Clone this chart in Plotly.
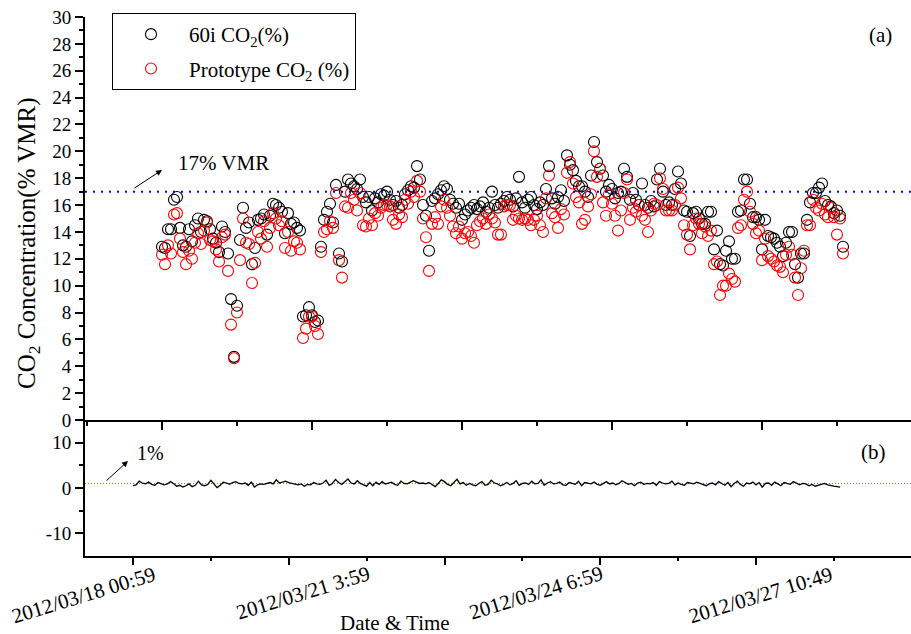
import plotly.graph_objects as go

# 60i analyser CO2 (% VMR), one value per sample
co2_60i = [
    12.9, 12.8, 14.2, 14.2, 16.4, 16.6, 14.3, 13.0, 12.9, 14.2,
    13.3, 14.5, 15.0, 14.0, 14.9, 14.8, 14.2, 13.5, 13.2, 12.5,
    14.4, 14.0, 12.4, 9.0, 4.7, 8.5, 13.4, 15.8, 14.3, 14.7,
    11.6, 12.8, 14.9, 15.0, 15.3, 13.8, 15.2, 16.1, 16.0, 15.8,
    15.5, 13.9, 15.4, 14.6, 14.7, 14.3, 14.1, 7.7, 7.8, 8.4,
    7.8, 7.3, 7.4, 12.9, 14.9, 15.5, 16.1, 14.7, 17.5, 12.4,
    11.8, 17.0, 17.9, 17.6, 17.4, 17.2, 17.9, 16.6, 16.2, 16.6,
    15.6, 16.5, 16.2, 16.8, 16.7, 17.0, 16.4, 16.0, 16.3, 15.8,
    16.0, 16.8, 17.1, 17.4, 17.3, 18.9, 17.9, 16.0, 15.2, 12.6,
    16.3, 16.5, 16.8, 17.1, 17.4, 17.2, 16.4, 16.1, 15.8, 16.1,
    14.9, 15.3, 15.6, 15.8, 16.0, 15.7, 15.9, 16.2, 15.5, 15.8,
    17.0, 16.0, 15.8, 16.1, 16.3, 16.6, 16.4, 15.9, 16.5, 18.1,
    16.2, 15.8, 16.4, 16.6, 16.0, 15.7, 16.2, 16.0, 17.2, 18.9,
    16.5, 16.1, 16.6, 17.1, 16.3, 19.7, 19.0, 18.6, 17.8, 17.4,
    17.4, 17.0, 16.6, 18.2, 20.7, 19.2, 18.7, 18.2, 17.0, 17.5,
    17.2, 16.5, 16.9, 17.0, 18.7, 18.1, 16.4, 16.9, 16.4, 16.0,
    17.6, 16.0, 15.8, 16.3, 15.9, 17.9, 18.7, 17.0, 16.0, 16.2,
    16.0, 17.2, 18.5, 17.6, 15.6, 15.5, 13.7, 15.4, 15.5, 15.0,
    14.6, 14.6, 15.5, 15.5, 12.7, 14.1, 11.6, 11.5, 12.6, 13.3,
    12.0, 12.0, 15.5, 15.6, 17.9, 17.9, 16.1, 15.1, 15.1, 14.9,
    12.7, 14.9, 13.7, 13.6, 13.5, 13.2, 12.9, 12.2, 13.2, 14.0,
    14.0, 11.6, 10.6, 12.4, 12.4, 14.9, 16.2, 16.9, 16.9, 17.3,
    17.6, 16.3, 16.0, 15.9, 15.4, 15.6, 15.2, 12.9,
]

# Prototype CO2 (% VMR)
co2_proto = [
    12.3, 11.6, 13.0, 12.4, 15.3, 15.4, 13.5, 12.5, 11.6, 12.6,
    12.0, 13.2, 13.9, 13.1, 14.1, 14.7, 13.4, 13.3, 12.7, 11.8,
    13.6, 13.8, 11.1, 7.1, 4.6, 8.0, 11.9, 15.0, 13.2, 13.1,
    10.2, 11.7, 14.0, 13.5, 14.8, 12.9, 14.3, 15.4, 15.0, 14.5,
    14.8, 12.8, 14.0, 12.6, 13.3, 13.2, 12.7, 6.1, 6.8, 7.7,
    7.7, 7.0, 6.4, 12.5, 14.0, 14.2, 14.8, 14.3, 16.9, 11.9,
    10.6, 15.9, 15.8, 16.9, 16.4, 15.6, 16.9, 14.5, 14.4, 15.0,
    14.5, 15.4, 15.2, 15.8, 16.0, 16.0, 15.9, 14.9, 14.6, 15.3,
    15.1, 16.4, 16.1, 17.0, 16.6, 17.8, 17.0, 15.0, 13.6, 11.1,
    14.6, 15.1, 14.6, 15.9, 16.4, 15.8, 15.2, 14.4, 13.9, 14.4,
    13.5, 13.9, 14.0, 13.7, 13.2, 14.5, 14.8, 15.0, 14.6, 15.3,
    15.0, 14.7, 13.8, 13.8, 15.9, 16.0, 16.0, 14.9, 15.2, 15.0,
    14.9, 15.0, 14.9, 14.5, 14.9, 15.2, 14.5, 14.0, 16.5, 18.2,
    15.4, 15.1, 14.3, 15.7, 15.3, 18.4, 19.2, 17.6, 16.6, 16.2,
    14.6, 14.9, 15.9, 16.8, 20.0, 18.1, 18.7, 16.2, 15.2, 16.8,
    16.1, 15.2, 14.1, 15.6, 16.9, 17.9, 14.9, 15.8, 15.5, 16.0,
    15.2, 14.9, 14.0, 15.6, 16.1, 16.0, 18.0, 17.2, 15.6, 15.6,
    15.6, 16.0, 17.3, 16.5, 14.5, 13.8, 12.7, 14.5, 15.0, 14.6,
    13.9, 14.4, 13.7, 14.1, 11.6, 11.8, 9.3, 10.0, 10.0, 10.9,
    10.5, 10.3, 14.3, 14.5, 16.4, 17.0, 15.5, 14.6, 13.9, 14.1,
    11.9, 13.5, 12.2, 12.0, 11.8, 11.5, 11.4, 11.0, 12.3, 12.9,
    12.3, 10.6, 9.3, 11.3, 12.6, 14.5, 14.5, 16.4, 15.8, 15.6,
    16.1, 15.3, 15.1, 15.8, 15.1, 13.8, 15.0, 12.4,
]

# Difference trace shown in panel (b)
co2_diff = [
    0.5, 0.7, 1.5, 1.1, 0.9, 1.3, 0.8, 0.6, 1.2, 1.0,
    0.7, 0.9, 1.4, 1.0, 0.4, 0.6, 0.2, 0.5, 0.9, 0.3,
    0.6, 1.5, 0.7, 0.5, 0.8, 1.7, 0.9, 0.1, 0.6, 1.3,
    1.1, 0.8, 1.2, 1.4, 1.0, 0.9, 1.1, 0.6, 1.3, 0.2,
    0.7, 0.9, 0.8, 1.0, 1.2, 0.9, 1.8, 1.1, 1.3, 1.5,
    1.2, 1.0, 0.8, 0.7, 0.9, 0.4, 0.8, 0.7, 1.2, 0.9,
    0.8, 1.1, 1.7, 0.6, 1.0, 1.9, 1.2, 0.8, 1.4, 2.0,
    1.1, 0.9, 1.6, 1.0, 0.7, 0.4, 1.2, 0.5, 1.3, 0.8,
    1.4, 0.9, 1.1, 1.3, 0.8, 0.6, 1.5, 1.0, 0.9, 1.2,
    1.6, 1.3, 1.0, 1.1, 0.9, 1.2, 0.7, 0.3, 1.0, 1.8,
    1.4, 0.8, 0.5, 1.1, 1.9, 0.9, 1.2, 0.6, 1.0, 0.7,
    0.5, 1.0, 1.4, 0.6, 0.8, 1.7, 1.1, 0.9, 0.5, 0.8,
    1.2, 0.7, 1.0, 1.6, 0.6, 1.0, 1.1, 0.8, 1.5, 0.9,
    1.0, 1.8, 0.6, 1.1, 1.4, 0.9, 1.0, 1.3, 0.7, 0.6,
    1.2, 1.0, 0.8, 1.5, 0.5, 1.2, 1.1, 0.9, 1.3, 0.8,
    0.6, 1.0, 1.4, 0.9, 1.1, 0.7, 1.0, 1.6, 1.2, 0.8,
    1.0, 0.5, 1.1, 1.3, 0.8, 1.0, 0.9, 1.2, 0.6, 1.4,
    1.1, 0.9, 1.0, 1.5, 0.7, 1.1, 0.8, 0.6, 1.2, 1.0,
    0.9, 1.3, 1.0, 0.8, 0.5, 0.9, 1.1, 0.7, 1.4, 1.0,
    0.6, 1.2, 0.3, 1.0, 1.5, 0.8, 0.4, 1.1, 0.9, 1.3,
    0.7, 1.2, 0.2, 1.0, 1.1, 0.6, 1.3, 0.9, 0.5, 1.2,
    1.0, 0.8, 1.4, 1.1, 0.7, 1.0, 0.9, 0.5, 0.8, 0.4,
    0.6, 0.9, 1.0, 0.7, 0.5, 0.4, 0.3, 0.2,
]

tick_samples = [0, 75, 150, 225]
tick_labels = ["2012/03/18 00:59", "2012/03/21 3:59", "2012/03/24 6:59", "2012/03/27 10:49"]
limit_top = 17
limit_bottom = 1

FONT = "Liberation Serif"
W, H = 911, 634
L, R, T, B = 85, 0, 17, 78
PW, PH = W - L - R, H - T - B
split = (H - B - 420) / PH


def px(xp):
    return (xp - L) / PW


def py(yp):
    return (H - B - yp) / PH


fig = go.Figure()
fig.add_trace(go.Scatter(
    x=list(range(len(co2_60i))), y=co2_60i, mode="markers",
    name="60i CO<sub>2</sub>(%)", legendgroup="a",
    marker=dict(symbol="circle-open", size=11, color="black", line=dict(width=1.1)),
    xaxis="x", yaxis="y"))
fig.add_trace(go.Scatter(
    x=list(range(len(co2_proto))), y=co2_proto, mode="markers",
    name="Prototype CO<sub>2</sub> (%)", legendgroup="b",
    marker=dict(symbol="circle-open", size=11, color="red", line=dict(width=1.1)),
    xaxis="x", yaxis="y"))
fig.add_trace(go.Scatter(
    x=list(range(len(co2_diff))), y=co2_diff, mode="lines",
    line=dict(color="black", width=1.3), showlegend=False,
    xaxis="x2", yaxis="y2"))
fig.add_trace(go.Scatter(x=[None], y=[None], mode="lines", showlegend=False,
                         hoverinfo="skip", xaxis="x3", yaxis="y2"))

top_range = [(L - 162) / 3.0, (W - 162) / 3.0]
bot_range = [(L - 133) / 3.115, (W - 133) / 3.115]

axis_common = dict(showline=True, linecolor="black", linewidth=2, showgrid=False,
                   zeroline=False, tickcolor="black", tickwidth=1.5,
                   tickfont=dict(family=FONT, size=19, color="black"))

fig.update_layout(
    width=W, height=H,
    margin=dict(l=L, r=R, t=T, b=B, pad=0),
    paper_bgcolor="white", plot_bgcolor="white",
    font=dict(family=FONT, color="black"),
    showlegend=True,
    legend=dict(x=px(112), y=py(13), xanchor="left", yanchor="top",
                bgcolor="white", bordercolor="black", borderwidth=1,
                font=dict(family=FONT, size=21, color="black"),
                traceorder="grouped", tracegroupgap=4, itemwidth=66,
                entrywidth=262, entrywidthmode="pixels"),
    xaxis=dict(domain=[0, 1], anchor="y", range=top_range, ticks="outside",
               tick0=0, dtick=50, ticklen=8, showticklabels=False,
               minor=dict(dtick=25, tick0=0, ticklen=4, ticks="outside",
                          tickwidth=1.5, tickcolor="black"),
               **axis_common),
    yaxis=dict(domain=[split, 1], anchor="x", range=[0, 30], dtick=2,
               ticks="outside", ticklen=8,
               minor=dict(dtick=1, ticklen=4, ticks="outside",
                          tickwidth=1.5, tickcolor="black"),
               **axis_common),
    xaxis2=dict(domain=[0, 1], anchor="y2", range=bot_range,
                ticks="", showticklabels=False, **axis_common),
    xaxis3=dict(overlaying="x2", anchor="y2", range=bot_range, side="bottom",
                showline=False, showgrid=False, zeroline=False,
                ticks="outside", tick0=0, dtick=50, ticklen=8, tickwidth=1.5,
                tickcolor="black", showticklabels=False,
                minor=dict(dtick=25, tick0=0, ticklen=4, ticks="outside",
                           tickwidth=1.5, tickcolor="black")),
    yaxis2=dict(domain=[0, split], anchor="x2", range=[-15, 15],
                tickmode="array", tickvals=[-10, 0, 10], ticktext=["-10", "0", "10"],
                ticks="outside", ticklen=8,
                minor=dict(tickmode="array", tickvals=[-5, 5], ticklen=4,
                           ticks="outside", tickwidth=1.5, tickcolor="black"),
                **axis_common),
)

fig.add_shape(type="line", xref="x domain", yref="y", x0=0, x1=1,
              y0=limit_top, y1=limit_top,
              line=dict(color="#0000ff", width=2, dash="2px,6px"))
fig.add_shape(type="line", xref="x2 domain", yref="y2", x0=0, x1=1,
              y0=limit_bottom, y1=limit_bottom, layer="below",
              line=dict(color="#7070ff", width=1, dash="1px,2px"))

# date tick labels of panel (b), rotated like the original
label_dx = [27, 7, 6, 3]
for val, txt, dx in zip(tick_samples, tick_labels, label_dx):
    fig.add_annotation(x=val, xref="x2", y=py(560), yref="paper", text=txt,
                       textangle=-17, showarrow=False, xanchor="right",
                       yanchor="top", xshift=dx, borderpad=0,
                       font=dict(family=FONT, size=21, color="black"))

ann_font = dict(family=FONT, size=21, color="black")
fig.add_annotation(x=px(880), y=py(35), xref="paper", yref="paper", text="(a)",
                   showarrow=False, xanchor="center", yanchor="middle", font=ann_font)
fig.add_annotation(x=px(873), y=py(452), xref="paper", yref="paper", text="(b)",
                   showarrow=False, xanchor="center", yanchor="middle", font=ann_font)
fig.add_annotation(x=px(176), y=py(163), xref="paper", yref="paper", text="17% VMR",
                   showarrow=False, xanchor="left", yanchor="middle", font=ann_font)
fig.add_annotation(x=px(135), y=py(453), xref="paper", yref="paper", text="1%",
                   showarrow=False, xanchor="left", yanchor="middle",
                   font=dict(family=FONT, size=20, color="black"))
fig.add_annotation(x=px(162), y=py(170), xref="paper", yref="paper", text="",
                   showarrow=True, ax=-29, ay=19, arrowhead=2, arrowsize=1.2,
                   arrowwidth=1, arrowcolor="black")
fig.add_annotation(x=px(128), y=py(461), xref="paper", yref="paper", text="",
                   showarrow=True, ax=-23, ay=21, arrowhead=2, arrowsize=1.2,
                   arrowwidth=1, arrowcolor="black")
fig.add_annotation(x=px(28), y=py(243), xref="paper", yref="paper",
                   text="CO<sub>2</sub> Concentration(% VMR)", textangle=-90,
                   showarrow=False, xanchor="center", yanchor="middle",
                   font=dict(family=FONT, size=25, color="black"))
fig.add_annotation(x=px(395), y=py(623), xref="paper", yref="paper",
                   text="Date &amp; Time", showarrow=False,
                   xanchor="center", yanchor="middle", font=ann_font)

fig.write_html("out.html")
